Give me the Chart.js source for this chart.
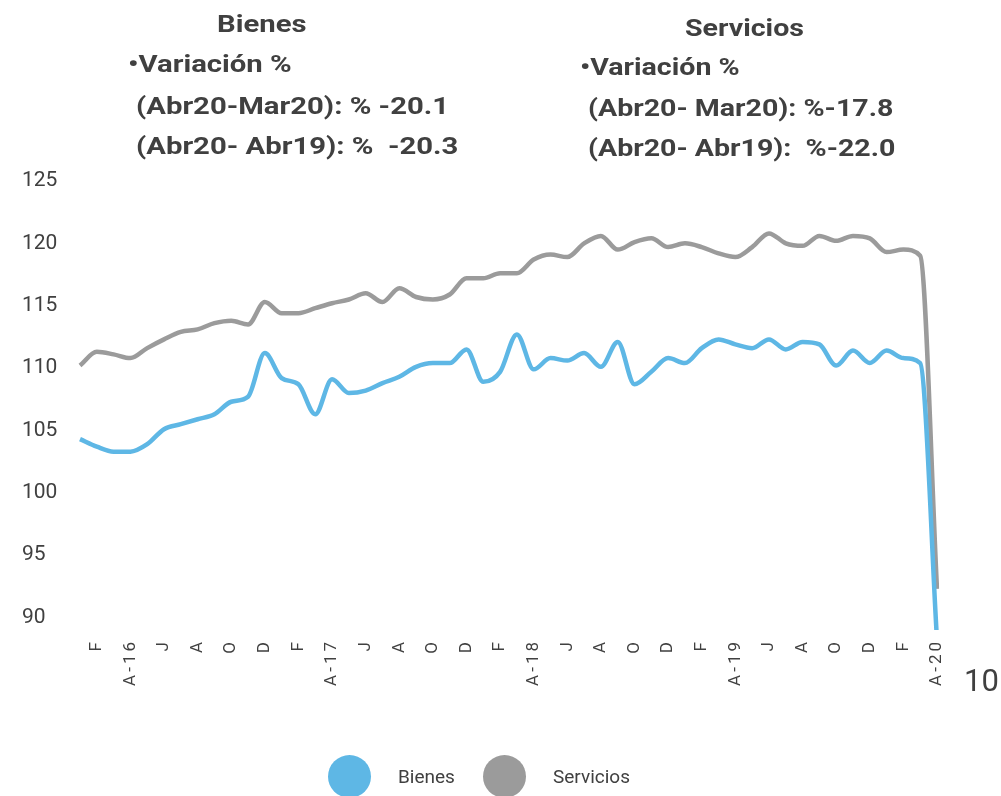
<!DOCTYPE html>
<html>
<head>
<meta charset="utf-8">
<script src="https://cdn.jsdelivr.net/npm/chart.js@4/dist/chart.umd.min.js"></script>
<style>
  body { margin: 0; background: #fff; }
  #wrap { position: relative; width: 1001px; height: 796px; font-family: Roboto, "Open Sans", sans-serif; color: #404040; }
  #wrap canvas { position: absolute; left: 0; top: 0; }
  .t { position: absolute; white-space: pre; font-weight: bold; font-size: 24px; line-height: 24px; transform-origin: left top; }
  .b { transform: scaleX(1.22); }
  .s { transform: scaleX(1.19); }
  .ley { position: absolute; font-size: 19px; line-height: 19px; white-space: pre; }
  .dot { position: absolute; width: 43px; height: 43px; border-radius: 50%; }
</style>
</head>
<body>
<div id="wrap">
  <canvas id="grafica" width="1001" height="796"></canvas>

  <!-- textos de arriba -->
  <div class="t b" style="left:217px; top:12px;">Bienes</div>
  <div class="t b" style="left:128px; top:52px;">•Variación %</div>
  <div class="t b" style="left:136px; top:94px;">(Abr20-Mar20): % -20.1</div>
  <div class="t b" style="left:136px; top:134px;">(Abr20- Abr19): %  -20.3</div>

  <div class="t s" style="left:685px; top:16px;">Servicios</div>
  <div class="t s" style="left:580px; top:55px;">•Variación %</div>
  <div class="t s" style="left:588px; top:96px;">(Abr20- Mar20): %-17.8</div>
  <div class="t s" style="left:588px; top:136px;">(Abr20- Abr19):  %-22.0</div>

  <div style="position:absolute; left:964px; top:666px; font-size:31px; line-height:30px;">10</div>

  <!-- leyenda -->
  <div class="dot" style="left:328px; top:755px; background:#5EB7E5;"></div>
  <div class="ley" style="left:398px; top:767px;">Bienes</div>
  <div class="dot" style="left:483px; top:755px; background:#9B9B9B;"></div>
  <div class="ley" style="left:553px; top:767px;">Servicios</div>
</div>

<script>
/* meses de ene-2016 a abr-2020 */
const meses = [
  "E", "F", "M", "A-16", "M", "J", "J", "A", "S", "O", "N", "D",
  "E", "F", "M", "A-17", "M", "J", "J", "A", "S", "O", "N", "D",
  "E", "F", "M", "A-18", "M", "J", "J", "A", "S", "O", "N", "D",
  "E", "F", "M", "A-19", "M", "J", "J", "A", "S", "O", "N", "D",
  "E", "F", "M", "A-20",
];

const bienes = [
  104.3, 103.7, 103.3, 103.3, 103.9, 105.1, 105.5, 105.9, 106.3, 107.3, 107.7, 111.2,
  109.2, 108.7, 106.3, 109.1, 108.0, 108.2, 108.8, 109.3, 110.1, 110.4, 110.4, 111.5,
  108.9, 109.7, 112.7, 109.9, 110.8, 110.6, 111.2, 110.1, 112.1, 108.7, 109.7, 110.8,
  110.4, 111.6, 112.3, 111.9, 111.6, 112.3, 111.5, 112.1, 111.9, 110.2, 111.4, 110.4,
  111.4, 110.8, 110.4, 88.2,
];

const servicios = [
  110.2, 111.3, 111.1, 110.8, 111.6, 112.3, 112.9, 113.1, 113.6, 113.8, 113.5, 115.3,
  114.4, 114.4, 114.8, 115.2, 115.5, 116.0, 115.3, 116.4, 115.7, 115.5, 115.9, 117.2,
  117.2, 117.6, 117.6, 118.7, 119.1, 118.9, 120.0, 120.6, 119.5, 120.1, 120.4, 119.7,
  120.0, 119.7, 119.2, 118.9, 119.7, 120.8, 120.0, 119.8, 120.6, 120.2, 120.6, 120.4,
  119.3, 119.5, 119.0, 92.3,
];

const ticksY = [90, 95, 100, 105, 110, 115, 120, 125];

/* etiquetas del eje x un poco mas espaciadas, como en la lamina */
const espaciado = {
  id: "espaciado",
  beforeDraw(chart) {
    const esc = chart.scales.x;
    if (esc._espaciado) return;
    const orig = esc.drawLabels;
    esc.drawLabels = function (area) {
      this.ctx.save();
      this.ctx.letterSpacing = "3px";
      orig.call(this, area);
      this.ctx.restore();
    };
    esc._espaciado = true;
  },
};

const ctx = document.getElementById("grafica").getContext("2d");
const grafica = new Chart(ctx, {
  type: "line",
  data: {
    labels: meses,
    datasets: [
      {
        label: "Bienes",
        data: bienes,
        borderColor: "#5EB7E5",
        backgroundColor: "#5EB7E5",
        borderWidth: 4.5,
        pointRadius: 0,
        cubicInterpolationMode: "monotone",
      },
      {
        label: "Servicios",
        data: servicios,
        borderColor: "#9B9B9B",
        backgroundColor: "#9B9B9B",
        borderWidth: 4.5,
        pointRadius: 0,
        cubicInterpolationMode: "monotone",
      },
    ],
  },
  options: {
    responsive: false,
    animation: false,
    layout: {
      padding: { top: 181, left: 22, right: 64, bottom: 0 },
    },
    plugins: {
      legend: { display: false },
      tooltip: { enabled: false },
    },
    scales: {
      x: {
        grid: { display: false, drawTicks: false },
        border: { display: false },
        afterFit: (scale) => { scale.height = 166; },
        ticks: {
          autoSkip: false,
          maxRotation: 90,
          minRotation: 90,
          padding: 9,
          color: "#404040",
          font: { family: "Roboto", size: 17 },
          callback: function (value, index) {
            return index % 2 === 1 ? meses[index] : "";
          },
        },
      },
      y: {
        min: 89,
        max: 125,
        grid: { display: false, drawTicks: false },
        border: { display: false },
        afterFit: (scale) => { scale.width = 58; },
        afterBuildTicks: (scale) => {
          scale.ticks = ticksY.map((v) => ({ value: v }));
        },
        ticks: {
          crossAlign: "far",
          color: "#404040",
          font: { family: "Roboto", size: 21 },
        },
      },
    },
  },
  plugins: [espaciado],
});
</script>
</body>
</html>
